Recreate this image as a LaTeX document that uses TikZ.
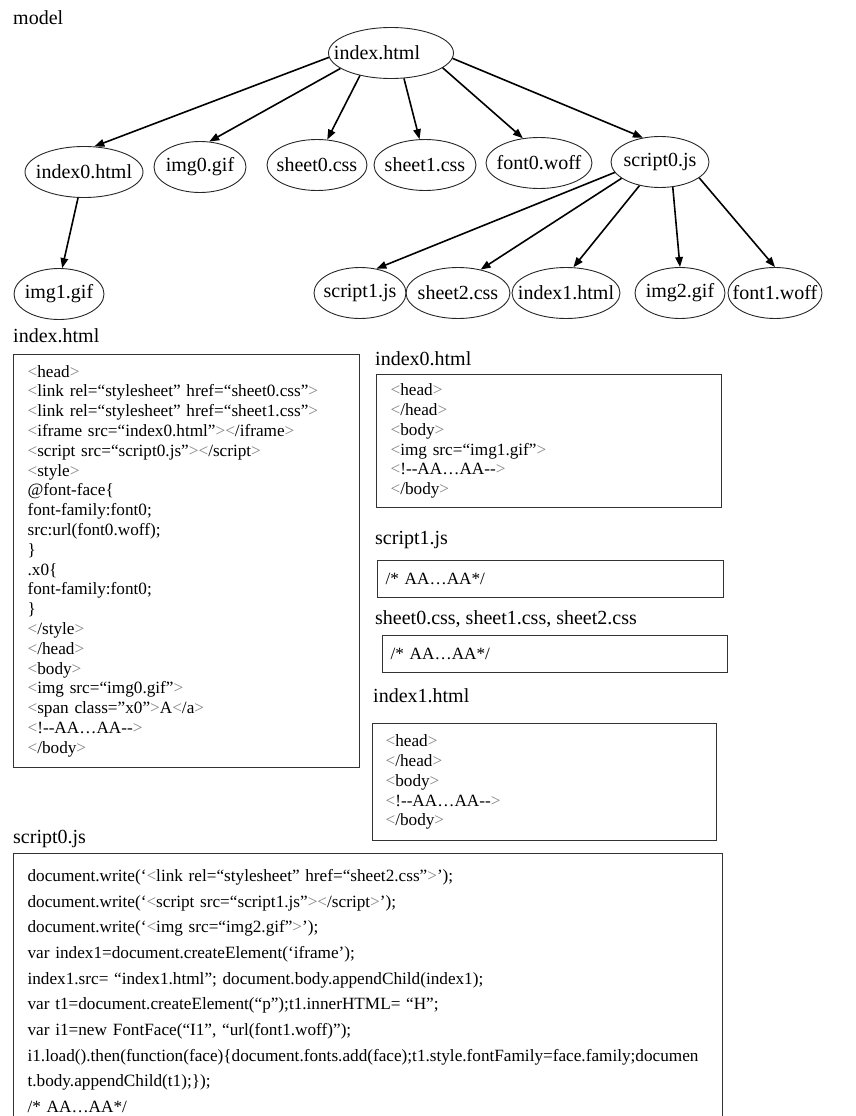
\documentclass[tikz,border=0pt]{standalone}
\usepackage{fontspec}
\setmainfont{Liberation Serif}
\usetikzlibrary{shapes.geometric,arrows.meta}

\newcommand{\ltg}{\textcolor{black!50}{<}}
\newcommand{\gtg}{\textcolor{black!50}{>}}
\newcommand{\resname}[1]{\makebox[0pt]{#1}}

\tikzset{
  res/.style={ellipse, draw=black!85, line width=0.9pt, minimum height=51pt, inner sep=0pt, font=\fontsize{20}{24}\selectfont},
  dep/.style={line width=1.6pt, -{Triangle[length=10pt,width=7.5pt]}},
  lbl/.style={anchor=base west, inner sep=0pt, font=\fontsize{20}{24}\selectfont},
  codebox/.style={draw=black!80, line width=1.2pt, anchor=north west, align=left, font=\fontsize{17.2}{19.8}\selectfont},
}

\begin{document}
\begin{tikzpicture}[x=1pt,y=-1pt]
\useasboundingbox (0,0) rectangle (855,1116);
%%Model graph
\node[lbl] (modellbl) at (13,25) {model};
\node[res, minimum width=125pt] (idx) at (391,53) {\resname{\hspace*{-28pt}index.html}};
\node[res, minimum width=118pt] (idx0) at (84,172) {\resname{index0.html}};
\node[res, minimum width=92pt] (img0) at (200,167) {\resname{img0.gif}};
\node[res, minimum width=100pt] (sheet0) at (317,165) {\resname{sheet0.css}};
\node[res, minimum width=102pt] (sheet1) at (425,165) {\resname{sheet1.css}};
\node[res, minimum width=106pt] (font0) at (539,163) {\resname{font0.woff}};
\node[res, minimum width=98pt] (scr0) at (660,162) {\resname{script0.js}};
\node[res, minimum width=90pt] (img1) at (59,294) {\resname{img1.gif}};
\node[res, minimum width=92pt] (scr1) at (360,293) {\resname{script1.js}};
\node[res, minimum width=104pt] (sheet2) at (458,293) {\resname{sheet2.css}};
\node[res, minimum width=108pt] (idx1) at (566,293) {\resname{index1.html}};
\node[res, minimum width=90pt] (img2) at (680,293) {\resname{img2.gif}};
\node[res, minimum width=94pt] (font1) at (775,293) {\resname{font1.woff}};
\draw[dep] (idx.184) -- (idx0.68);
\draw[dep] (idx.197) -- (img0.70);
\draw[dep] (idx.216) -- (sheet0.68);
\draw[dep] (idx.297) -- (sheet1.102);
\draw[dep] (idx.344) -- (font0.123);
\draw[dep] (idx.355) -- (scr0.125);
\draw[dep] (idx0.257) -- (img1.83);
\draw[dep] (scr0.193) -- (scr1.56);
\draw[dep] (scr0.203) -- (sheet2.46);
\draw[dep] (scr0.229) -- (idx1.74);
\draw[dep] (scr0.297) -- (img2.90);
\draw[dep] (scr0.338) -- (font1.90);
%%Left column
\node[lbl] (idxlbl) at (13,342) {index.html};
\node[codebox, text width=318pt, inner xsep=14pt, minimum height=413pt] (idxcode) at (13,354) {
\ltg head\gtg\\
\ltg link rel=“stylesheet” href=“sheet0.css”\gtg\\
\ltg link rel=“stylesheet” href=“sheet1.css”\gtg\\
\ltg iframe src=“index0.html”\gtg\ltg/iframe\gtg\\
\ltg script src=“script0.js”\gtg\ltg/script\gtg\\
\ltg style\gtg\\
@font-face\{\\
font-family:font0;\\
src:url(font0.woff);\\
\}\\
.x0\{\\
font-family:font0;\\
\}\\
\ltg/style\gtg\\
\ltg/head\gtg\\
\ltg body\gtg\\
\ltg img src=“img0.gif”\gtg\\
\ltg span class=”x0”\gtg A\ltg/a\gtg\\
\ltg!-{}-AA…AA-{}-\gtg\\
\ltg/body\gtg};
%%Right column
\node[lbl] (idx0lbl) at (375,365) {index0.html};
\node[codebox, text width=317pt, inner xsep=14pt, minimum height=133pt] (idx0code) at (376,374) {
\ltg head\gtg\\
\ltg/head\gtg\\
\ltg body\gtg\\
\ltg img src=“img1.gif”\gtg\\
\ltg!-{}-AA…AA-{}-\gtg\\
\ltg/body\gtg};
\node[lbl] (scr1lbl) at (375,544) {script1.js};
\node[codebox, text width=330pt, inner xsep=8pt, minimum height=37pt] (scr1code) at (377,560) {/* AA…AA*/};
\node[lbl] (sheetlbl) at (375,624) {sheet0.css, sheet1.css, sheet2.css};
\node[codebox, text width=329pt, inner xsep=8pt, minimum height=37pt] (sheetcode) at (382,635) {/* AA…AA*/};
\node[lbl] (idx1lbl) at (373,702) {index1.html};
\node[codebox, text width=318pt, inner xsep=13pt, minimum height=117pt] (idx1code) at (372,723) {
\ltg head\gtg\\
\ltg/head\gtg\\
\ltg body\gtg\\
\ltg!-{}-AA…AA-{}-\gtg\\
\ltg/body\gtg};
%%Bottom
\node[lbl] (scr0lbl) at (13,843) {script0.js};
\node[codebox, text width=681pt, inner xsep=14pt, minimum height=275pt, font=\fontsize{17.2}{25.7}\selectfont] (scr0code) at (13,853) {
document.write(‘\ltg link rel=“stylesheet” href=“sheet2.css”\gtg’);\\
document.write(‘\ltg script src=“script1.js”\gtg\ltg/script\gtg’);\\
document.write(‘\ltg img src=“img2.gif”\gtg’);\\
var index1=document.createElement(‘iframe’);\\
index1.src= “index1.html”; document.body.appendChild(index1);\\
var t1=document.createElement(“p”);t1.innerHTML= “H”;\\
var i1=new FontFace(“I1”, “url(font1.woff)”);\\
i1.load().then(function(face)\{document.fonts.add(face);t1.style.fontFamily=face.family;documen\\
t.body.appendChild(t1);\});\\
/* AA…AA*/};
\end{tikzpicture}
\end{document}
